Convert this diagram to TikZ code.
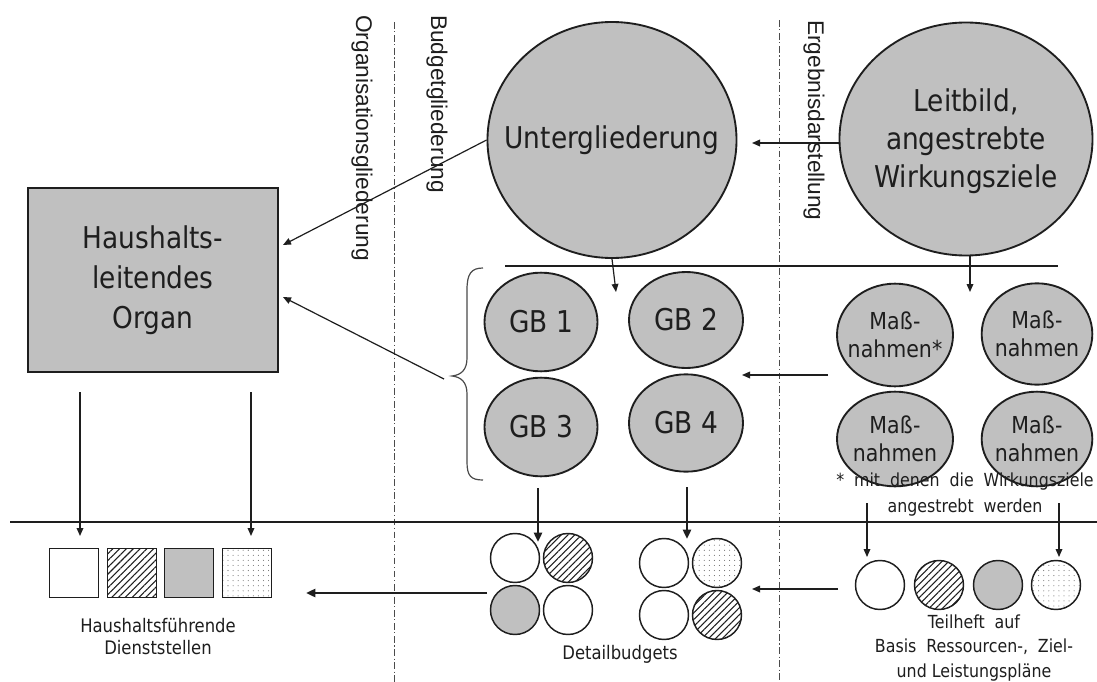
\documentclass[tikz,border=0pt]{standalone}
\usepackage{fontspec}
\setmainfont[FakeStretch=0.88]{DejaVu Sans}
\newfontfamily\arialf{Liberation Sans}
\usetikzlibrary{arrows.meta,patterns.meta,shapes.geometric}
\definecolor{fillgray}{HTML}{C0C0C0}
\definecolor{ink}{HTML}{1E1E1E}
\def\ws{\hskip 0.55em\relax}
\begin{document}
\begin{tikzpicture}[x=0.75pt,y=-0.75pt,
  ell/.style={ellipse,draw=ink,line width=1.4pt,fill=fillgray,inner sep=0pt},
  bigtxt/.style={font=\fontsize{22.5}{28.5}\selectfont,align=center,text=ink,inner sep=0pt},
  mtxt/.style={font=\fontsize{17.5}{21}\selectfont,align=center,text=ink,inner sep=0pt},
  smalltxt/.style={font=\fontsize{13.5}{18.4}\selectfont,align=center,text=ink,inner sep=0pt},
  rottxt/.style={font=\arialf\fontsize{17}{20}\selectfont,rotate=-90,anchor=west,text=ink,inner sep=0pt},
  circ/.style={circle,draw=ink,line width=1.1pt,minimum size=36.75pt,inner sep=0pt},
  sq/.style={rectangle,draw=ink,line width=1.1pt,minimum size=36.75pt,inner sep=0pt},
  hatch/.style={pattern={Lines[angle=45,distance=3.6pt,line width=0.8pt]},pattern color=ink},
  dotted fill/.style={pattern={Dots[distance=3.8pt,radius=0.4pt]},pattern color=ink!65},
  grayfill/.style={fill=fillgray},
  arr/.style={draw=ink,line width=0.9pt,-{Triangle[length=6pt,width=5pt]}},
  thickarr/.style={draw=ink,line width=1.8pt,-{Triangle[length=7pt,width=6pt]}},
  rule/.style={draw=ink,line width=0.9pt},
  divider/.style={draw=ink!80,line width=0.7pt,dash pattern=on 5pt off 2pt on 0.8pt off 2pt}
]
\fill[white] (0,0) rectangle (1097,682);
\useasboundingbox (0,0) rectangle (1097,682);

% dividers
\coordinate (d1t) at (394,22); \coordinate (d1b) at (394,682);
\coordinate (d2t) at (779,20); \coordinate (d2b) at (779,682);
\draw[divider] (d1t) -- (d1b);
\draw[divider] (d2t) -- (d2b);

% rotated labels
\node[rottxt] (orgl) at (362,15) {Organisationsgliederung};
\node[rottxt] (budl) at (437,15) {Budgetgliederung};
\node[rottxt] (ergl) at (814,20) {Ergebnisdarstellung};

% horizontal rules
\coordinate (h1a) at (505,266); \coordinate (h1b) at (1058,266);
\draw[rule] (h1a) -- (h1b);
\coordinate (h2a) at (10,522); \coordinate (h2b) at (1097,522);
\draw[rule] (h2a) -- (h2b);

% top ellipses
\node[ell,minimum width=186.75pt,minimum height=177pt] (UG) at (612,140) {};
\node[bigtxt] (UGt) at (UG.center) {Untergliederung};
\node[ell,minimum width=189.75pt,minimum height=174.75pt] (LB) at (966,139) {};
\node[bigtxt] (LBt) at (966,141) {Leitbild,\\angestrebte\\Wirkungsziele};

% box
\node[rectangle,draw=ink,line width=1.8pt,fill=fillgray,minimum width=187.5pt,minimum height=138pt,inner sep=0pt] (HO) at (153,280) {};
\node[bigtxt,font=\fontsize{22.5}{30}\selectfont] (HOt) at (HO.center) {Haushalts-\\leitendes\\Organ};

% GB ellipses
\node[ell,minimum width=84.75pt,minimum height=74pt] (GB1) at (541,322) {};
\node[ell,minimum width=85.5pt,minimum height=72pt] (GB2) at (686,320) {};
\node[ell,minimum width=84.75pt,minimum height=74pt] (GB3) at (541,427) {};
\node[ell,minimum width=85.5pt,minimum height=73pt] (GB4) at (686,423) {};
\node[bigtxt] at (GB1.center) {GB 1};
\node[bigtxt] at (GB2.center) {GB 2};
\node[bigtxt] at (GB3.center) {GB 3};
\node[bigtxt] at (GB4.center) {GB 4};

% Massnahmen ellipses
\node[ell,minimum width=87pt,minimum height=77pt] (M1) at (895,335) {};
\node[ell,minimum width=83pt,minimum height=76pt] (M2) at (1037,334) {};
\node[ell,minimum width=87pt,minimum height=71pt] (M3) at (895,439) {};
\node[ell,minimum width=83pt,minimum height=71pt] (M4) at (1037,439) {};
\node[mtxt] at (M1.center) {Maß-\\nahmen*};
\node[mtxt] at (M2.center) {Maß-\\nahmen};
\node[mtxt] at (M3.center) {Maß-\\nahmen};
\node[mtxt] at (M4.center) {Maß-\\nahmen};

% footnote
\node[smalltxt,font=\fontsize{13.5}{19.5}\selectfont] (fn) at (965,495) {*\ws mit\ws denen\ws die\ws Wirkungsziele\\angestrebt\ws werden};

% brace
\coordinate (brtip) at (452,376);
\draw[ink!80,line width=0.9pt] (483,268) .. controls (471,268) and (467,274) .. (467,290) -- (467,358)
  .. controls (467,370) and (461,375) .. (brtip)
  .. controls (461,377) and (467,382) .. (467,394) -- (467,462)
  .. controls (467,476) and (471,480) .. (483,480);

% arrows upper part
\coordinate (a1end) at (283,245);
\draw[arr] (UG.west) -- (a1end);
\coordinate (brstart) at (444,379);
\coordinate (a2end) at (283,297);
\draw[arr] (brstart) -- (a2end);
\coordinate (lbw) at (840,143);
\coordinate (ugr) at (752,143);
\draw[arr] (lbw) -- (ugr);
\coordinate (ugdown) at (616,292);
\draw[arr] (UG.south) -- (ugdown);
\coordinate (lbs) at (970,255);
\coordinate (lbdown) at (970,292);
\draw[arr] (lbs) -- (lbdown);
\coordinate (mstart) at (828,375);
\coordinate (gbend) at (742,375);
\draw[arr] (mstart) -- (gbend);

% squares (Dienststellen)
\node[sq] (S1) at (74,573) {};
\node[sq,hatch] (S2) at (132,573) {};
\node[sq,grayfill] (S3) at (189,573) {};
\node[sq,dotted fill] (S4) at (247,573) {};
\node[smalltxt,font=\fontsize{14}{16.5}\selectfont] (dst) at (158,637) {Haushaltsführende\\Dienststellen};

% box down arrows
\coordinate (b1s) at (80,392); \coordinate (b1e) at (80,536);
\coordinate (b2s) at (251,392); \coordinate (b2e) at (251,536);
\draw[arr] (b1s) -- (b1e);
\draw[arr] (b2s) -- (b2e);

% detail budgets
\node[circ] (D1) at (515,558) {};
\node[circ,hatch] (D2) at (568,558) {};
\node[circ,grayfill] (D3) at (515,610) {};
\node[circ] (D4) at (568,610) {};
\node[circ] (D5) at (664,563) {};
\node[circ,dotted fill] (D6) at (717,563) {};
\node[circ] (D7) at (664,615) {};
\node[circ,hatch] (D8) at (717,615) {};
\node[smalltxt,font=\fontsize{14}{17}\selectfont] (dbt) at (620,654) {Detailbudgets};

\coordinate (g3s) at (538,488); \coordinate (g3e) at (538,542);
\coordinate (g4s) at (687,487); \coordinate (g4e) at (687,539);
\draw[thickarr] (g3s) -- (g3e);
\draw[thickarr] (g4s) -- (g4e);
\coordinate (dbs) at (487,593); \coordinate (dbe) at (306,593);
\draw[thickarr] (dbs) -- (dbe);

% Teilheft circles
\node[circ] (T1) at (880,585) {};
\node[circ,hatch] (T2) at (939,585) {};
\node[circ,grayfill] (T3) at (998,585) {};
\node[circ,dotted fill] (T4) at (1056,585) {};
\node[smalltxt] (tht) at (974,648) {Teilheft\ws auf\\Basis\ws Ressourcen-,\ws Ziel-\\und Leistungspläne};

\coordinate (f1s) at (867,503); \coordinate (f1e) at (867,557);
\coordinate (f2s) at (1059,503); \coordinate (f2e) at (1059,557);
\draw[arr] (f1s) -- (f1e);
\draw[arr] (f2s) -- (f2e);
\coordinate (ths) at (838,589); \coordinate (the) at (752,589);
\draw[arr] (ths) -- (the);
\end{tikzpicture}
\end{document}
